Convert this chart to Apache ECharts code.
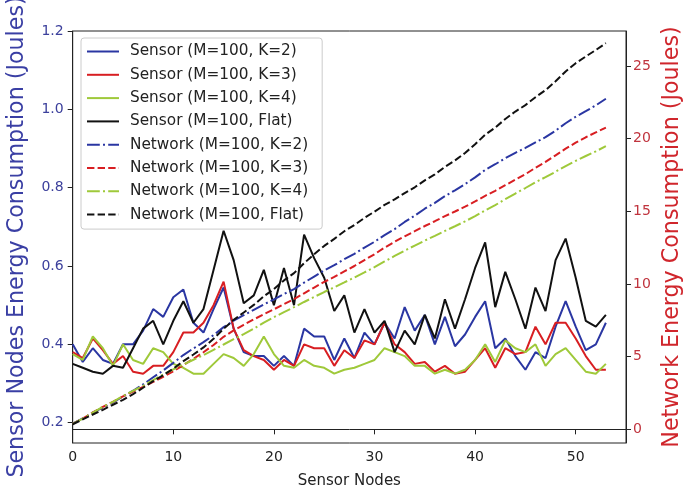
<!DOCTYPE html>
<html>
<head>
<meta charset="utf-8">
<script src="https://cdn.jsdelivr.net/npm/echarts@6/dist/echarts.min.js"></script>
<style>html,body{margin:0;padding:0;background:#fff;}#c{width:685px;height:491px;}</style>
</head>
<body>
<div id="c"></div>
<script>
const nodes = [0,1,2,3,4,5,6,7,8,9,10,11,12,13,14,15,16,17,18,19,20,21,22,23,24,25,26,27,28,29,30,31,32,33,34,35,36,37,38,39,40,41,42,43,44,45,46,47,48,49,50,51,52,53];

const sensorK2 = [0.40,0.355,0.39,0.36,0.35,0.40,0.40,0.435,0.49,0.47,0.52,0.54,0.455,0.43,0.49,0.545,0.44,0.38,0.37,0.37,0.345,0.37,0.345,0.44,0.42,0.42,0.36,0.415,0.365,0.43,0.40,0.455,0.415,0.495,0.435,0.475,0.40,0.47,0.395,0.425,0.47,0.51,0.39,0.415,0.37,0.335,0.38,0.365,0.445,0.51,0.445,0.385,0.40,0.455];
const sensorK3 = [0.38,0.365,0.415,0.385,0.35,0.37,0.33,0.325,0.345,0.345,0.38,0.43,0.43,0.455,0.50,0.56,0.44,0.385,0.37,0.36,0.335,0.36,0.345,0.40,0.39,0.39,0.345,0.385,0.365,0.41,0.40,0.455,0.40,0.38,0.35,0.355,0.33,0.345,0.325,0.33,0.36,0.39,0.34,0.39,0.375,0.38,0.445,0.40,0.455,0.455,0.415,0.37,0.335,0.335];
const sensorK4 = [0.375,0.36,0.42,0.39,0.345,0.40,0.36,0.35,0.39,0.38,0.35,0.34,0.325,0.325,0.35,0.375,0.365,0.345,0.375,0.42,0.375,0.345,0.34,0.36,0.345,0.34,0.325,0.335,0.34,0.35,0.36,0.39,0.38,0.37,0.345,0.345,0.325,0.335,0.325,0.335,0.36,0.40,0.355,0.41,0.39,0.38,0.40,0.345,0.375,0.39,0.36,0.33,0.325,0.35];
const sensorFlat = [0.35,0.34,0.33,0.325,0.345,0.34,0.39,0.44,0.46,0.40,0.46,0.51,0.455,0.49,0.59,0.69,0.615,0.505,0.525,0.59,0.50,0.595,0.50,0.68,0.62,0.57,0.485,0.525,0.43,0.49,0.43,0.46,0.38,0.435,0.40,0.475,0.415,0.515,0.44,0.515,0.595,0.66,0.495,0.585,0.515,0.44,0.545,0.485,0.615,0.67,0.57,0.46,0.445,0.475];

const networkK2 = [0.40,0.755,1.145,1.505,1.855,2.255,2.655,3.09,3.58,4.05,4.57,5.11,5.565,5.995,6.485,7.03,7.47,7.85,8.22,8.59,8.935,9.305,9.65,10.09,10.51,10.93,11.29,11.705,12.07,12.50,12.90,13.355,13.77,14.265,14.70,15.175,15.575,16.045,16.44,16.865,17.335,17.845,18.235,18.65,19.02,19.355,19.735,20.10,20.545,21.055,21.50,21.885,22.285,22.74];
const networkK3 = [0.38,0.745,1.16,1.545,1.895,2.265,2.595,2.92,3.265,3.61,3.99,4.42,4.85,5.305,5.805,6.365,6.805,7.19,7.56,7.92,8.255,8.615,8.96,9.36,9.75,10.14,10.485,10.87,11.235,11.645,12.045,12.50,12.90,13.28,13.63,13.985,14.315,14.66,14.985,15.315,15.675,16.065,16.405,16.795,17.17,17.55,17.995,18.395,18.85,19.305,19.72,20.09,20.425,20.76];
const networkK4 = [0.375,0.735,1.155,1.545,1.89,2.29,2.65,3.00,3.39,3.77,4.12,4.46,4.785,5.11,5.46,5.835,6.20,6.545,6.92,7.34,7.715,8.06,8.40,8.76,9.105,9.445,9.77,10.105,10.445,10.795,11.155,11.545,11.925,12.295,12.64,12.985,13.31,13.645,13.97,14.305,14.665,15.065,15.42,15.83,16.22,16.60,17.00,17.345,17.72,18.11,18.47,18.80,19.125,19.475];
const networkFlat = [0.35,0.69,1.02,1.345,1.69,2.03,2.42,2.86,3.32,3.72,4.18,4.69,5.145,5.635,6.225,6.915,7.53,8.035,8.56,9.15,9.65,10.245,10.745,11.425,12.045,12.615,13.10,13.625,14.055,14.545,14.975,15.435,15.815,16.25,16.65,17.125,17.54,18.055,18.495,19.01,19.605,20.265,20.76,21.345,21.86,22.30,22.845,23.33,23.945,24.615,25.185,25.645,26.09,26.565];

const leftTicks = [0.2,0.4,0.6,0.8,1.0,1.2];
const rightTicks = [0,5,10,15,20,25];
const xTicks = [0,10,20,30,40,50];

const seriesNames = ['Sensor (M=100, K=2)','Sensor (M=100, K=3)','Sensor (M=100, K=4)','Sensor (M=100, Flat)',
  'Network (M=100, K=2)','Network (M=100, K=3)','Network (M=100, K=4)','Network (M=100, Flat)'];

const BLUE='#2a36a2', RED='#d81e22', GREEN='#9fc93a', BLACK='#111111';
const DASH=[7.4,3.2], DASHDOT=[12.8,3.2,2,3.2];
const FONT='DejaVu Sans';

function mk(name, arr, color, axis, dash){
  return {
    name, type:'line', yAxisIndex:axis, showSymbol:false, symbol:'none',
    data: nodes.map((x,i)=>[x, arr[i]]),
    lineStyle:{color, width:2, type: dash || 'solid'},
    itemStyle:{color}, emphasis:{disabled:true}, z: axis===1?3:2
  };
}

const chart = echarts.init(document.getElementById('c'), null, {renderer:'canvas'});
chart.setOption({
  animation:false,
  backgroundColor:'#fff',
  textStyle:{fontFamily:FONT},
  grid:{left:72.7, right:59, top:31, bottom:48, show:true, borderColor:'#222', borderWidth:1, backgroundColor:'transparent', containLabel:false, outerBoundsMode:'none'},
  legend:{
    orient:'vertical', left:81, top:38,
    data: seriesNames,
    itemWidth:32, itemHeight:14, itemGap:8.3,
    padding:[6,14,7,5],
    backgroundColor:'#fff', borderColor:'#cccccc', borderWidth:1, borderRadius:3,
    itemStyle:{opacity:0, color:'rgba(0,0,0,0)', borderWidth:0},
    textStyle:{fontFamily:FONT, fontSize:15.3, color:'#222', padding:[0,0,0,6], lineHeight:15}
  },
  xAxis:{
    type:'value', min:0, max:55, interval:10,
    name:'Sensor Nodes', nameLocation:'middle', nameGap:31,
    nameTextStyle:{fontFamily:FONT, fontSize:15, color:'#222'},
    axisLine:{show:true, lineStyle:{color:'#222', width:1}},
    axisTick:{show:true, inside:false, length:5, lineStyle:{color:'#222'}, customValues:xTicks},
    axisLabel:{fontFamily:FONT, fontSize:14, color:'#222', margin:7, customValues:xTicks},
    splitLine:{show:false}
  },
  yAxis:[{
    type:'value', position:'left', min:0.148, max:1.2,
    name:'Sensor Nodes Energy Consumption (Joules)', nameLocation:'middle', nameGap:44,
    nameTextStyle:{fontFamily:FONT, fontSize:22.2, color:'#3a3fa4'},
    axisLine:{show:true, lineStyle:{color:'#222', width:1}},
    axisTick:{show:true, length:5, lineStyle:{color:'#222'}, customValues:leftTicks},
    axisLabel:{fontFamily:FONT, fontSize:14, color:'#3c409c', margin:9, customValues:leftTicks, formatter:(v)=>Number(v).toFixed(1)},
    splitLine:{show:false}
  },{
    type:'value', position:'right', min:-0.94, max:27.4,
    name:'Network Energy Consumption (Joules)', nameLocation:'middle', nameGap:35,
    nameTextStyle:{fontFamily:FONT, fontSize:22.2, color:'#d0262c'},
    axisLine:{show:true, lineStyle:{color:'#222', width:1}},
    axisTick:{show:true, length:5, lineStyle:{color:'#222'}, customValues:rightTicks},
    axisLabel:{fontFamily:FONT, fontSize:14, color:'#c0343e', margin:7, customValues:rightTicks, formatter:(v)=>String(Math.round(v))},
    splitLine:{show:false}
  }],
  series:[
    mk(seriesNames[0], sensorK2, BLUE, 0),
    mk(seriesNames[1], sensorK3, RED, 0),
    mk(seriesNames[2], sensorK4, GREEN, 0),
    mk(seriesNames[3], sensorFlat, BLACK, 0),
    mk(seriesNames[4], networkK2, BLUE, 1, DASHDOT),
    mk(seriesNames[5], networkK3, RED, 1, DASH),
    mk(seriesNames[6], networkK4, GREEN, 1, DASHDOT),
    mk(seriesNames[7], networkFlat, BLACK, 1, DASH)
  ]
});
</script>
</body>
</html>
